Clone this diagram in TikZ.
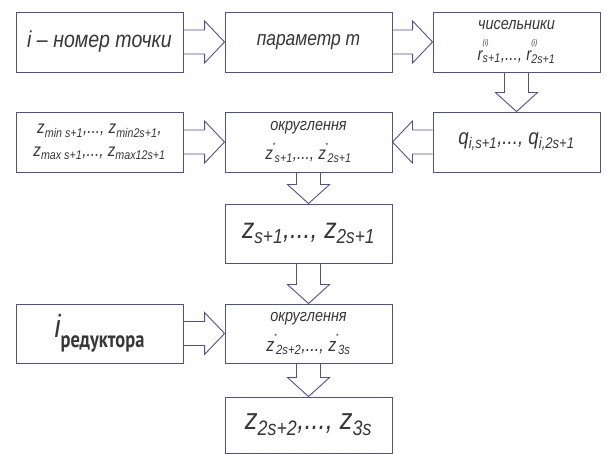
\documentclass[tikz,border=0pt]{standalone}
\usepackage{fontspec}
\setmainfont{Liberation Sans}[FakeStretch=0.85]
\newfontfamily\redfont{PT Sans}[FakeStretch=0.8]
\usetikzlibrary{calc}
\definecolor{lc}{RGB}{80,80,150}
\definecolor{tc}{RGB}{55,55,55}
\newcommand\fsz[1]{\fontsize{#1}{#1}\selectfont}
\newcommand\harr[2]{\draw[arr] ($(#1.east)+(0,-12)$) -- ($(#2.west)+(-20,-12)$) -- ($(#2.west)+(-20,-21)$) -- (#2.west) -- ($(#2.west)+(-20,21)$) -- ($(#2.west)+(-20,12)$) -- ($(#1.east)+(0,12)$);}
\newcommand\larr[2]{\draw[arr] ($(#1.west)+(0,-12)$) -- ($(#2.east)+(20,-12)$) -- ($(#2.east)+(20,-21)$) -- (#2.east) -- ($(#2.east)+(20,21)$) -- ($(#2.east)+(20,12)$) -- ($(#1.west)+(0,12)$);}
\newcommand\varr[2]{\draw[arr] ($(#1.south)+(-12,0)$) -- ($(#2.north)+(-12,-19)$) -- ($(#2.north)+(-21,-19)$) -- (#2.north) -- ($(#2.north)+(21,-19)$) -- ($(#2.north)+(12,-19)$) -- ($(#1.south)+(12,0)$);}
\newcommand\rsup[2]{r\rlap{\raisebox{0.8em}{\fsz{8}(i)}}\textsubscript{#2}}
\newcommand\zst[1]{z\kern-0.5pt\raisebox{0.6em}{\fsz{8}*}\kern-0.5pt\textsubscript{#1}}
\begin{document}
\begin{tikzpicture}[x=1pt,y=-1pt,
  box/.style={draw=lc, line width=0.9pt, minimum width=167pt, minimum height=60pt, inner sep=0pt, align=center, text=tc, font=\itshape},
  arr/.style={draw=lc, line width=0.9pt, line join=miter}]
\useasboundingbox (0,0) rectangle (606,454);
\fill[white] (0,0) rectangle (606,454);
\node[box] (A) at (99.5,42) {\fsz{23}i – номер точки};
\node[box] (B) at (308.5,42) {\fsz{20.5}параметр m};
\node[box] (C) at (516.5,42) {\fsz{17}чисельники\\[9pt]\fsz{18}\rsup{}{s+1},..., \rsup{}{2s+1}};
\node[box] (F) at (99.5,142) {\fsz{18}z\textsubscript{min s+1},..., z\textsubscript{min2s+1},\\[9pt]\fsz{18}z\textsubscript{max s+1},..., z\textsubscript{max12s+1}};
\node[box] (E) at (308.5,142) {\fsz{17}округлення\\[8pt]\fsz{18}\zst{s+1},..., \zst{2s+1}};
\node[box] (D) at (516.5,142) {\fsz{22}q\textsubscript{i,s+1},..., q\textsubscript{i,2s+1}};
\node[box, minimum height=59pt] (H) at (308.5,233.5) {\fsz{29}z\textsubscript{s+1},..., z\textsubscript{2s+1}};
\node[box, minimum height=59pt] (G) at (99.5,333.5) {\fsz{32}i\raisebox{-10pt}{\redfont\bfseries\upshape\fsz{23}редуктора}};
\node[box, minimum height=59pt] (I) at (308.5,333.5) {\fsz{17}округлення\\[8pt]\fsz{19}\zst{2s+2},..., \zst{3s}};
\node[box, minimum height=56pt] (J) at (308.5,425) {\fsz{30}z\textsubscript{2s+2},..., z\textsubscript{3s}};
\harr{A}{B}
\harr{B}{C}
\varr{C}{D}
\harr{F}{E}
\larr{D}{E}
\varr{E}{H}
\varr{H}{I}
\harr{G}{I}
\varr{I}{J}
\end{tikzpicture}
\end{document}
